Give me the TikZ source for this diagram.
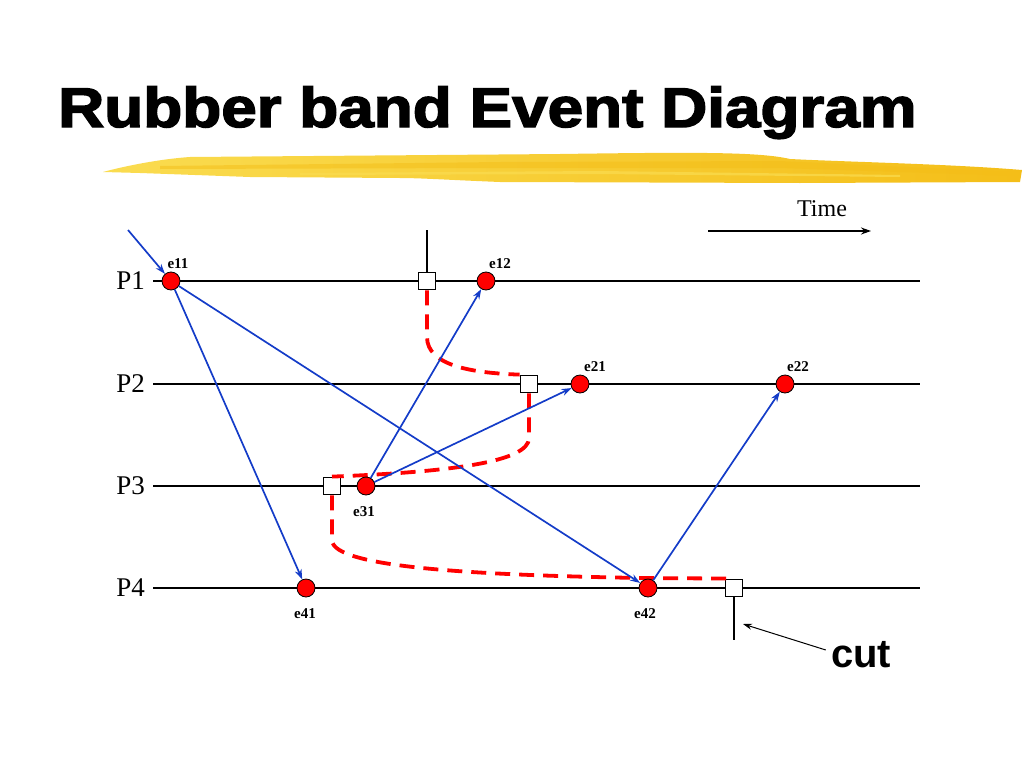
\documentclass[tikz,border=0pt]{standalone}
\usepackage{fontspec}
\setmainfont{Liberation Serif}
\newfontfamily\titlefont{Liberation Sans Bold}[FakeBold=2.5]
\newfontfamily\cutfont{Liberation Sans Bold}
\usetikzlibrary{arrows.meta,positioning}
\definecolor{msgblue}{RGB}{20,60,200}
\definecolor{brush}{RGB}{244,190,24}
\definecolor{brushlight}{RGB}{250,220,80}
\tikzstyle{every node}=[inner sep=0pt]
\tikzstyle{event}=[circle,draw=black,line width=0.8pt,fill=red,minimum size=18pt]
\tikzstyle{cutpt}=[rectangle,draw=black,line width=1.8pt,fill=white,minimum size=17pt]
\tikzstyle{proc}=[anchor=east,font=\fontsize{27}{30}\selectfont]
\tikzstyle{elabel}=[font=\bfseries\fontsize{15}{17}\selectfont]
\tikzstyle{msg}=[draw=msgblue,line width=1.7pt,-{Stealth[length=10pt,width=7pt]}]
\tikzstyle{band}=[draw=red,line width=3.8pt,dash pattern=on 15pt off 9pt]
\tikzstyle{tick}=[line width=2pt]

\begin{document}
\begin{tikzpicture}[x=1pt,y=-1pt]
\useasboundingbox (0,0) rectangle (1024,768);
% title and brush stroke
\node[anchor=base west] (title) at (58,127)
  {\titlefont\fontsize{56}{60}\selectfont\scalebox{1.14}[1]{Rubber band Event Diagram}};
\shade[left color=brushlight,right color=brush] (103,172) .. controls (125,166) and (160,159) .. (190,157)
  -- (560,154) .. controls (700,152) and (760,152) .. (790,159)
  .. controls (850,162) and (950,164) .. (1022,170) -- (1020,182) -- (800,183) -- (500,182)
  .. controls (450,180) and (420,178) .. (400,178) -- (250,177) -- (140,173) -- cycle;
\fill[brush,opacity=0.5] (160,166) -- (500,162) -- (780,161) -- (1015,172)
  -- (1015,176) -- (780,168) -- (500,168) -- (160,169) -- cycle;
\fill[brushlight,opacity=0.7] (300,173) -- (600,171) -- (900,175)
  -- (900,177) -- (600,174) -- (300,175) -- cycle;

% processes
\foreach \p/\y in {1/281,2/384,3/486,4/588}{
  \draw[tick] (153,\y) -- (920,\y);
  \node[proc] (P\p) at (145,\y) {P\p};
}

% time arrow
\node[font=\fontsize{24}{26}\selectfont] (time) at (822,209) {Time};
\coordinate (t0) at (708,231);
\coordinate (t1) at (871,231);
\draw[line width=1.6pt,-{Stealth[length=10pt,width=7pt]}] (t0) -- (t1);

% cut points
\node[cutpt] (c1) at (427,281) {};
\node[cutpt] (c2) at (529,384) {};
\node[cutpt] (c3) at (332,486) {};
\node[cutpt] (c4) at (734,588) {};
\draw[tick] (c1.north) -- ++(0,-42);
\draw[tick] (c4.south) -- ++(0,43);

% rubber band
\draw[band] (c1.south) -- (427,337) .. controls (427,365) and (470,373) .. (c2.north west);
\draw[band] (c2.south) -- (529,438) .. controls (529,462) and (450,472) .. (c3.north);
\draw[band] (c3.south) -- (332,540) .. controls (332,568) and (480,575) .. (640,578) -- (c4.north);

% events
\node[event] (e11) at (171,281) {};
\node[event] (e12) at (486,281) {};
\node[event] (e21) at (580,384) {};
\node[event] (e22) at (785,384) {};
\node[event] (e31) at (366,486) {};
\node[event] (e41) at (306,588) {};
\node[event] (e42) at (648,588) {};
\node[elabel,above=3pt of e11,xshift=7pt] (l11) {e11};
\node[elabel,above=3pt of e12,xshift=14pt] (l12) {e12};
\node[elabel,above=3pt of e21,xshift=15pt] (l21) {e21};
\node[elabel,above=3pt of e22,xshift=13pt] (l22) {e22};
\node[elabel,below=11pt of e31,xshift=-2pt] (l31) {e31};
\node[elabel,below=11pt of e41,xshift=-1pt] (l41) {e41};
\node[elabel,below=11pt of e42,xshift=-3pt] (l42) {e42};

% messages
\coordinate (in) at (128,230);
\draw[msg] (in) -- (e11);
\draw[msg] (e11) -- (e41);
\draw[msg] (e11) -- (e42);
\draw[msg] (e31) -- (e12);
\draw[msg] (e31) -- (e21);
\draw[msg] (e42) -- (e22);

% cut label
\node[font=\cutfont\fontsize{40}{44}\selectfont] (cut) at (861,655) {cut};
\coordinate (cuttip) at (743,624);
\draw[line width=1pt,-{Stealth[length=9pt,width=6pt]}] ([shift={(-5,-5)}]cut.west) -- (cuttip);
\end{tikzpicture}
\end{document}
